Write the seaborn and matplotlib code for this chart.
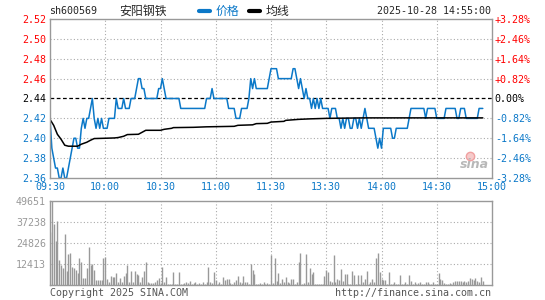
import numpy as np
import pandas as pd
import matplotlib
matplotlib.use('Agg')
import matplotlib.pyplot as plt
import seaborn as sns
from matplotlib.lines import Line2D

# minute prices, 09:30 -> 14:55 (one value per trading minute)
prices = [
    2.42, 2.39, 2.38, 2.37, 2.37, 2.36, 2.36, 2.37, 2.36, 2.36,
    2.37, 2.38, 2.39, 2.40, 2.40, 2.39, 2.39, 2.41, 2.42, 2.41,
    2.42, 2.42, 2.43, 2.44, 2.42, 2.41, 2.42, 2.41, 2.42, 2.41,
    2.41, 2.41, 2.42, 2.42, 2.42, 2.42, 2.44, 2.43, 2.43, 2.43,
    2.44, 2.43, 2.43, 2.43, 2.44, 2.44, 2.44, 2.45, 2.46, 2.46,
    2.45, 2.45, 2.44, 2.44, 2.44, 2.44, 2.44, 2.44, 2.44, 2.45,
    2.45, 2.46, 2.45, 2.44, 2.44, 2.44, 2.44, 2.44, 2.44, 2.44,
    2.44, 2.43, 2.43, 2.43, 2.43, 2.43, 2.43, 2.43, 2.43, 2.43,
    2.43, 2.43, 2.43, 2.43, 2.43, 2.44, 2.44, 2.44, 2.45, 2.44,
    2.44, 2.44, 2.44, 2.44, 2.44, 2.44, 2.44, 2.43, 2.43, 2.43,
    2.43, 2.42, 2.42, 2.42, 2.43, 2.43, 2.43, 2.43, 2.44, 2.46,
    2.45, 2.46, 2.45, 2.45, 2.45, 2.45, 2.45, 2.45, 2.45, 2.46,
    2.47, 2.47, 2.47, 2.47, 2.46, 2.46, 2.46, 2.46, 2.46, 2.46,
    2.46, 2.46, 2.47, 2.47, 2.46, 2.45, 2.46, 2.45, 2.44, 2.45,
    2.44, 2.44, 2.43, 2.44, 2.43, 2.44, 2.43, 2.44, 2.43, 2.43,
    2.43, 2.43, 2.42, 2.43, 2.43, 2.43, 2.42, 2.42, 2.41, 2.42,
    2.41, 2.42, 2.42, 2.41, 2.41, 2.42, 2.42, 2.41, 2.42, 2.41,
    2.42, 2.43, 2.42, 2.41, 2.41, 2.41, 2.41, 2.40, 2.39, 2.40,
    2.39, 2.41, 2.41, 2.41, 2.41, 2.41, 2.40, 2.40, 2.41, 2.41,
    2.41, 2.41, 2.41, 2.41, 2.41, 2.42, 2.43, 2.43, 2.43, 2.43,
    2.43, 2.43, 2.43, 2.43, 2.42, 2.43, 2.43, 2.43, 2.43, 2.43,
    2.42, 2.42, 2.42, 2.42, 2.42, 2.43, 2.43, 2.43, 2.43, 2.43,
    2.43, 2.42, 2.42, 2.43, 2.43, 2.43, 2.42, 2.42, 2.42, 2.42,
    2.42, 2.42, 2.42, 2.43, 2.43, 2.43,
]

# minute volumes (shares)
volumes = [
    31400, 49600, 35900, 25900, 37600, 14700, 11800, 9800, 30000, 8200,
    18600, 19200, 10800, 9800, 8800, 6900, 16100, 13700, 3900, 4300,
    9800, 22300, 11800, 12200, 8800, 2900, 2900, 2900, 2900, 15700,
    16700, 3300, 2000, 5500, 4700, 4900, 6900, 2000, 3900, 1600,
    5300, 6900, 11800, 2000, 8200, 2000, 8200, 6300, 5900, 1600,
    4900, 8200, 13300, 2000, 1200, 1200, 1200, 2000, 2900, 3900,
    1200, 10400, 2000, 4700, 800, 800, 800, 7800, 800, 800,
    7400, 600, 800, 1000, 2000, 1200, 2300, 800, 1200, 1600,
    800, 1200, 800, 1600, 800, 2000, 10500, 1600, 1000, 7800,
    2900, 800, 2000, 800, 4900, 2900, 3300, 3300, 1200, 800,
    2000, 2900, 5500, 2000, 1200, 5500, 2000, 2000, 800, 12400,
    8800, 6300, 800, 800, 1200, 800, 1600, 800, 1200, 800,
    17600, 1000, 16100, 2300, 7300, 1200, 3500, 2000, 4900, 2000,
    1200, 3500, 3500, 800, 2000, 13700, 19200, 800, 1200, 18400,
    2000, 10200, 6300, 7800, 800, 800, 800, 800, 800, 5500,
    8800, 7400, 2300, 2000, 17600, 2000, 3300, 2900, 9400, 2300,
    6300, 6300, 800, 800, 8200, 5900, 800, 5900, 800, 5900,
    2000, 3500, 8200, 800, 2000, 3500, 2000, 16100, 19000, 7400,
    3500, 2900, 2900, 800, 7400, 800, 800, 2000, 800, 800,
    5900, 800, 800, 2000, 800, 5900, 2300, 800, 1600, 800,
    1200, 1600, 800, 800, 1600, 2000, 800, 800, 2000, 800,
    800, 7100, 3500, 3100, 1200, 800, 800, 1200, 800, 1600,
    2500, 2500, 2200, 2500, 2000, 2500, 2000, 2200, 4300, 3300,
    2900, 4300, 2300, 2000, 4700, 2300,
]

# average price line, sampled where it visibly bends
avg_minutes = [0, 2, 4, 6, 8, 10, 15, 17, 20, 22, 24, 30, 35, 37, 40, 42, 48, 50,
               52, 60, 62, 66, 67, 78, 85, 100, 102, 110, 112, 118, 120, 127, 128,
               135, 141, 150, 170, 200, 235]
avg_values = [2.419, 2.413, 2.404, 2.399, 2.393, 2.392, 2.392, 2.394, 2.396, 2.398,
              2.3997, 2.400, 2.4003, 2.4007, 2.402, 2.4037, 2.404, 2.406,
              2.408, 2.408, 2.409, 2.410, 2.4107, 2.411, 2.4115, 2.412, 2.413,
              2.4135, 2.4147, 2.415, 2.4163, 2.417, 2.418, 2.419, 2.4195, 2.420,
              2.4205, 2.4205, 2.4205]

prev_close = 2.44
price_ticks = [2.36, 2.38, 2.40, 2.42, 2.44, 2.46, 2.48, 2.50, 2.52]
price_labels = ['2.36', '2.38', '2.40', '2.42', '2.44', '2.46', '2.48', '2.50', '2.52']
pct_labels = ['-3.28%', '-2.46%', '-1.64%', '-0.82%', '0.00%',
              '+0.82%', '+1.64%', '+2.46%', '+3.28%']
time_ticks = [0, 30, 60, 90, 120, 150, 180, 210, 240]
time_labels = ['09:30', '10:00', '10:30', '11:00', '11:30', '13:30', '14:00', '14:30', '15:00']
vol_ticks = [12413, 24826, 37238, 49651]
vol_labels = ['12413', '24826', '37238', '49651']

BLUE = '#0b78c8'
RED = '#ff0000'
GRAY = '#999999'
GRID = '#aaaaaa'

sns.set_style('white')
plt.rcParams['font.family'] = ['DejaVu Sans Mono', 'Noto Sans CJK SC']
plt.rcParams['font.size'] = 7.2

W, H = 545, 300
fig = plt.figure(figsize=(W / 100, H / 100), dpi=100)
fig.patch.set_facecolor('white')


def px(x, y):
    return x / W, 1 - y / H


df = pd.DataFrame({'minute': np.arange(len(prices)), 'price': prices, 'volume': volumes})
df_avg = pd.DataFrame({'minute': avg_minutes, 'avg': avg_values})

# ---- price panel
ax = fig.add_axes([50 / W, 1 - 178 / H, 442 / W, 159 / H])
sns.lineplot(data=df, x='minute', y='price', ax=ax, color=BLUE, linewidth=1.1)
sns.lineplot(data=df_avg, x='minute', y='avg', ax=ax, color='black', linewidth=1.1)
ax.set_xlim(0, 240)
ax.set_ylim(price_ticks[0], price_ticks[-1])
ax.set_xlabel('')
ax.set_ylabel('')

for lv in price_ticks[1:-1]:
    if lv == prev_close:
        ax.axhline(lv, color='black', lw=0.9, linestyle=(0, (3, 2)), zorder=1)
    else:
        ax.axhline(lv, color=GRID, lw=0.8, linestyle=(0, (1, 2)), zorder=0)
for t in time_ticks[1:-1]:
    ax.axvline(t, color=GRID, lw=0.8, linestyle=(0, (1, 2)), zorder=0)

label_colors = [BLUE if v < prev_close else ('black' if v == prev_close else RED) for v in price_ticks]
ax.set_yticks(price_ticks)
ax.set_yticklabels(price_labels)
for lbl, c in zip(ax.get_yticklabels(), label_colors):
    lbl.set_color(c)
ax.set_xticks(time_ticks)
ax.set_xticklabels(time_labels)
for lbl in ax.get_xticklabels():
    lbl.set_color(BLUE)
ax.tick_params(length=0, labelsize=7.2)
ax.tick_params(axis='y', pad=3)
ax.tick_params(axis='x', pad=3)
for s in ax.spines.values():
    s.set_color(GRAY)
    s.set_linewidth(1)

ax_r = ax.twinx()
ax_r.set_ylim(price_ticks[0], price_ticks[-1])
ax_r.set_yticks(price_ticks)
ax_r.set_yticklabels(pct_labels)
for lbl, c in zip(ax_r.get_yticklabels(), label_colors):
    lbl.set_color(c)
ax_r.tick_params(length=0, labelsize=7.2, pad=2)
for s in ax_r.spines.values():
    s.set_visible(False)

# sina watermark
fig.text(*px(474, 165), 'sina', ha='center', va='center', fontsize=9,
         fontweight='bold', style='italic', color='#b8b8b8', family='DejaVu Sans')
fig.add_artist(Line2D([470 / W], [1 - 156 / H], marker='o', markersize=6,
                      markerfacecolor='#f6caca', markeredgecolor='#f0a0a0', lw=0))

# ---- volume panel
axv = fig.add_axes([50 / W, 1 - 285 / H, 442 / W, 84 / H])
axv.vlines(df['minute'], 0, df['volume'], color=GRAY, linewidth=1.0)
axv.set_xlim(0, 240)
axv.set_ylim(0, vol_ticks[-1])
for lv in vol_ticks[:-1]:
    axv.axhline(lv, color=GRID, lw=0.8, linestyle=(0, (1, 2)), zorder=0)
for t in time_ticks[1:-1]:
    axv.axvline(t, color=GRID, lw=0.8, linestyle=(0, (1, 2)), zorder=0)
axv.set_yticks(vol_ticks)
axv.set_yticklabels(vol_labels)
axv.set_xticks([])
axv.tick_params(length=0, labelsize=7.2, pad=3, labelcolor=GRAY)
for s in axv.spines.values():
    s.set_color(GRAY)
    s.set_linewidth(1)

# ---- header and footer
fig.text(*px(49, 11), 'sh600569', ha='left', va='center', fontsize=7.2)
fig.text(*px(119, 11), '安阳钢铁', ha='left', va='center', fontsize=8.6,
         family=['Noto Sans CJK SC', 'DejaVu Sans'])
fig.add_artist(Line2D([199 / W, 210 / W], [1 - 11 / H, 1 - 11 / H], color=BLUE, lw=3))
fig.text(*px(216, 11), '价格', ha='left', va='center', fontsize=8.6, color=BLUE,
         family=['Noto Sans CJK SC', 'DejaVu Sans'])
fig.add_artist(Line2D([249 / W, 260 / W], [1 - 11 / H, 1 - 11 / H], color='black', lw=3))
fig.text(*px(266, 11), '均线', ha='left', va='center', fontsize=8.6,
         family=['Noto Sans CJK SC', 'DejaVu Sans'])
fig.text(*px(491, 11), '2025-10-28 14:55:00', ha='right', va='center', fontsize=7.2)

fig.text(*px(50, 293), 'Copyright 2025 SINA.COM', ha='left', va='center', fontsize=7.2, color='#555555')
fig.text(*px(491, 293), 'http://finance.sina.com.cn', ha='right', va='center', fontsize=7.2, color='#555555')

fig.savefig('out.png', dpi=100)
